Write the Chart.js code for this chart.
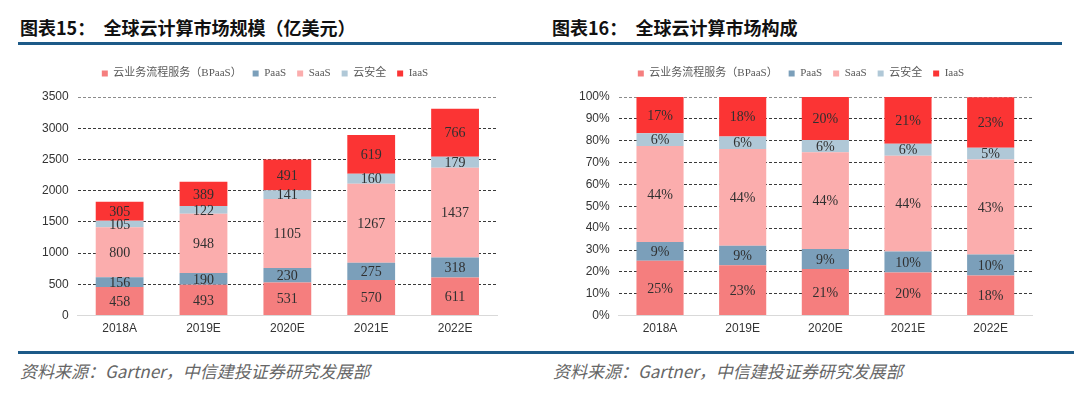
<!DOCTYPE html>
<html>
<head>
<meta charset="utf-8">
<script src="https://cdn.jsdelivr.net/npm/chart.js@4/dist/chart.umd.min.js"></script>
<style>
  body { margin: 0; background: #fff; }
  #page { position: relative; width: 1080px; height: 409px; overflow: hidden; background: #fff; }
  .title { position: absolute; top: 14px; font: bold 18px "Noto Sans CJK SC", sans-serif; color: #111; white-space: pre; }
  .rule { position: absolute; height: 3px; background: #1d5a88; }
  .source { position: absolute; top: 358px; font: italic 17px "Noto Sans CJK SC", sans-serif; color: #666; }
  canvas { position: absolute; }
</style>
</head>
<body>
<div id="page">
  <div class="title" style="left:20px">图表15：  全球云计算市场规模（亿美元）</div>
  <div class="title" style="left:552px">图表16：  全球云计算市场构成</div>
  <div class="rule" style="left:18px; width:1044px; top:42px"></div>
  <canvas id="graficoValor" width="540" height="287" style="left:0; top:55px"></canvas>
  <canvas id="graficoPct" width="540" height="287" style="left:540px; top:55px"></canvas>
  <div class="rule" style="left:18px; width:1056px; top:351px"></div>
  <div class="source" style="left:20px">资料来源：Gartner，中信建投证券研究发展部</div>
  <div class="source" style="left:553px">资料来源：Gartner，中信建投证券研究发展部</div>
</div>
<script>
const anios = ['2018A', '2019E', '2020E', '2021E', '2022E'];
const series = ['云业务流程服务（BPaaS）', 'PaaS', 'SaaS', '云安全', 'IaaS'];
const colores = ['#f57e7e', '#7b9fba', '#fbadad', '#b0c8d7', '#fb3434'];

// 亿美元
const bpaas = [458, 493, 531, 570, 611];
const paas = [156, 190, 230, 275, 318];
const saas = [800, 948, 1105, 1267, 1437];
const seguridad = [105, 122, 141, 160, 179];
const iaas = [305, 389, 491, 619, 766];

// participación (%)
const bpaasPct = [25.1, 23.0, 21.3, 19.7, 18.4];
const paasPct = [8.6, 8.9, 9.2, 9.6, 9.6];
const saasPct = [43.9, 44.3, 44.2, 43.8, 43.4];
const seguridadPct = [5.8, 5.7, 5.6, 5.5, 5.4];
const iaasPct = [16.7, 18.2, 19.7, 21.4, 23.1];

const ticksValor = [0, 500, 1000, 1500, 2000, 2500, 3000, 3500];
const ticksPct = [0, 10, 20, 30, 40, 50, 60, 70, 80, 90, 100];

// etiquetas dentro de cada segmento
const etiquetas = {
  id: 'etiquetas',
  afterDatasetsDraw(chart, args, opts) {
    const ctx = chart.ctx;
    ctx.save();
    ctx.font = '14px "Liberation Serif", serif';
    ctx.fillStyle = '#303030';
    ctx.textAlign = 'center';
    ctx.textBaseline = 'middle';
    chart.data.datasets.forEach((ds, i) => {
      chart.getDatasetMeta(i).data.forEach((bar, j) => {
        const c = bar.getCenterPoint();
        ctx.fillText(ds.data[j].toFixed(0) + opts.suffix, c.x, c.y + 1);
      });
    });
    ctx.restore();
  }
};

// más espacio bajo la leyenda
const espacioLeyenda = {
  id: 'espacioLeyenda',
  beforeInit(chart) {
    const fitOriginal = chart.legend.fit;
    chart.legend.fit = function () {
      fitOriginal.bind(chart.legend)();
      this.height += 8;
    };
  }
};

function crearGrafico(id, valores, ticks, sufijo, padL, padR) {
  const max = ticks[ticks.length - 1];
  const datasets = valores.map((v, i) => ({
    label: series[i],
    data: v,
    backgroundColor: colores[i],
    borderWidth: 0,
    barPercentage: 0.57,
    categoryPercentage: 1
  }));
  return new Chart(document.getElementById(id), {
    type: 'bar',
    data: { labels: anios, datasets: datasets },
    plugins: [etiquetas, espacioLeyenda],
    options: {
      responsive: false,
      animation: false,
      layout: { padding: { left: padL, right: padR, top: 2, bottom: 0 } },
      plugins: {
        tooltip: { enabled: false },
        etiquetas: { suffix: sufijo },
        legend: {
          position: 'top',
          labels: {
            boxWidth: 6,
            boxHeight: 6,
            padding: 11,
            color: '#595959',
            font: { family: '"Liberation Serif", "Noto Sans CJK SC", serif', size: 11 }
          }
        }
      },
      scales: {
        x: {
          stacked: true,
          grid: { display: false, drawTicks: false },
          border: { display: true, color: '#d9d9d9', width: 1 },
          ticks: { color: '#333', padding: 6, font: { family: '"Liberation Sans", sans-serif', size: 12 } }
        },
        y: {
          stacked: true,
          min: 0,
          max: max,
          afterBuildTicks: (scale) => { scale.ticks = ticks.map(v => ({ value: v })); },
          grid: {
            drawTicks: false,
            color: (ctx) => ctx.tick.value === 0 ? 'rgba(0,0,0,0)' : (ctx.tick.value === max ? '#8c8c8c' : '#3a3a3a')
          },
          border: { display: false, dash: [3, 2] },
          ticks: {
            color: '#333',
            padding: 9,
            font: { family: '"Liberation Sans", sans-serif', size: 12 },
            callback: (v) => v + sufijo
          }
        }
      }
    }
  });
}

crearGrafico('graficoValor', [bpaas, paas, saas, seguridad, iaas], ticksValor, '', 33, 43);
crearGrafico('graficoPct', [bpaasPct, paasPct, saasPct, seguridadPct, iaasPct], ticksPct, '%', 30, 48);
</script>
</body>
</html>
